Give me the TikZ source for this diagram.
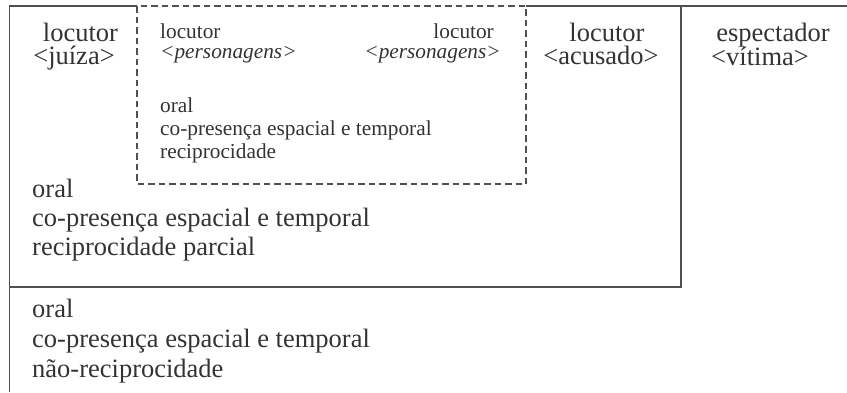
\documentclass[tikz,border=0pt]{standalone}
\usepackage{fontspec}
\setmainfont{Liberation Serif}
\definecolor{linegray}{HTML}{505050}
\definecolor{textgray}{HTML}{333333}
\tikzset{
  frameline/.style={draw=linegray, line width=1.4bp},
  dashline/.style={draw=linegray, line width=1.4bp, dash pattern=on 6.5bp off 4bp},
  bigtxt/.style={inner sep=0pt, text=textgray, font=\fontsize{26.5bp}{30bp}\selectfont},
  smalltxt/.style={inner sep=0pt, text=textgray, font=\fontsize{21.3bp}{24bp}\selectfont}
}
\begin{document}
\begin{tikzpicture}[x=1bp,y=-1bp]
\useasboundingbox (0,0) rectangle (847,392);
% frames
\draw[frameline] (9.5,392) -- (9.5,6) -- (137,6);
\draw[frameline] (526,6) -- (847,6);
\draw[frameline] (681,6) -- (681,287) -- (9.5,287);
\draw[dashline] (137,6) rectangle (526,184);
% top labels
\node[bigtxt, anchor=base] (l1) at (80.5,41) {locutor};
\node[bigtxt, anchor=base] (j1) at (74,64) {<juíza>};
\node[bigtxt, anchor=base] (l2) at (607,41) {locutor};
\node[bigtxt, anchor=base] (a2) at (601,64) {<acusado>};
\node[bigtxt, anchor=base] (e3) at (773,41) {espectador};
\node[bigtxt, anchor=base] (v3) at (760,65) {<vítima>};
% dashed box text
\node[smalltxt, anchor=base west] (pl) at (160,38) {locutor};
\node[smalltxt, anchor=base west] (pp) at (160,58) {\textit{<personagens>}};
\node[smalltxt, anchor=base east] (pr) at (494,38) {locutor};
\node[smalltxt, anchor=base east] (ppr) at (501,58) {\textit{<personagens>}};
\node[smalltxt, anchor=base west] (d1) at (160,112) {oral};
\node[smalltxt, anchor=base west] (d2) at (160,135) {co-presença espacial e temporal};
\node[smalltxt, anchor=base west] (d3) at (160,158) {reciprocidade};
% middle box text
\node[bigtxt, anchor=base west] (m1) at (32,197) {oral};
\node[bigtxt, anchor=base west] (m2) at (32,226) {co-presença espacial e temporal};
\node[bigtxt, anchor=base west] (m3) at (32,255) {reciprocidade parcial};
% lower text
\node[bigtxt, anchor=base west] (b1) at (32,317) {oral};
\node[bigtxt, anchor=base west] (b2) at (32,347) {co-presença espacial e temporal};
\node[bigtxt, anchor=base west] (b3) at (32,377) {não-reciprocidade};
\end{tikzpicture}
\end{document}
